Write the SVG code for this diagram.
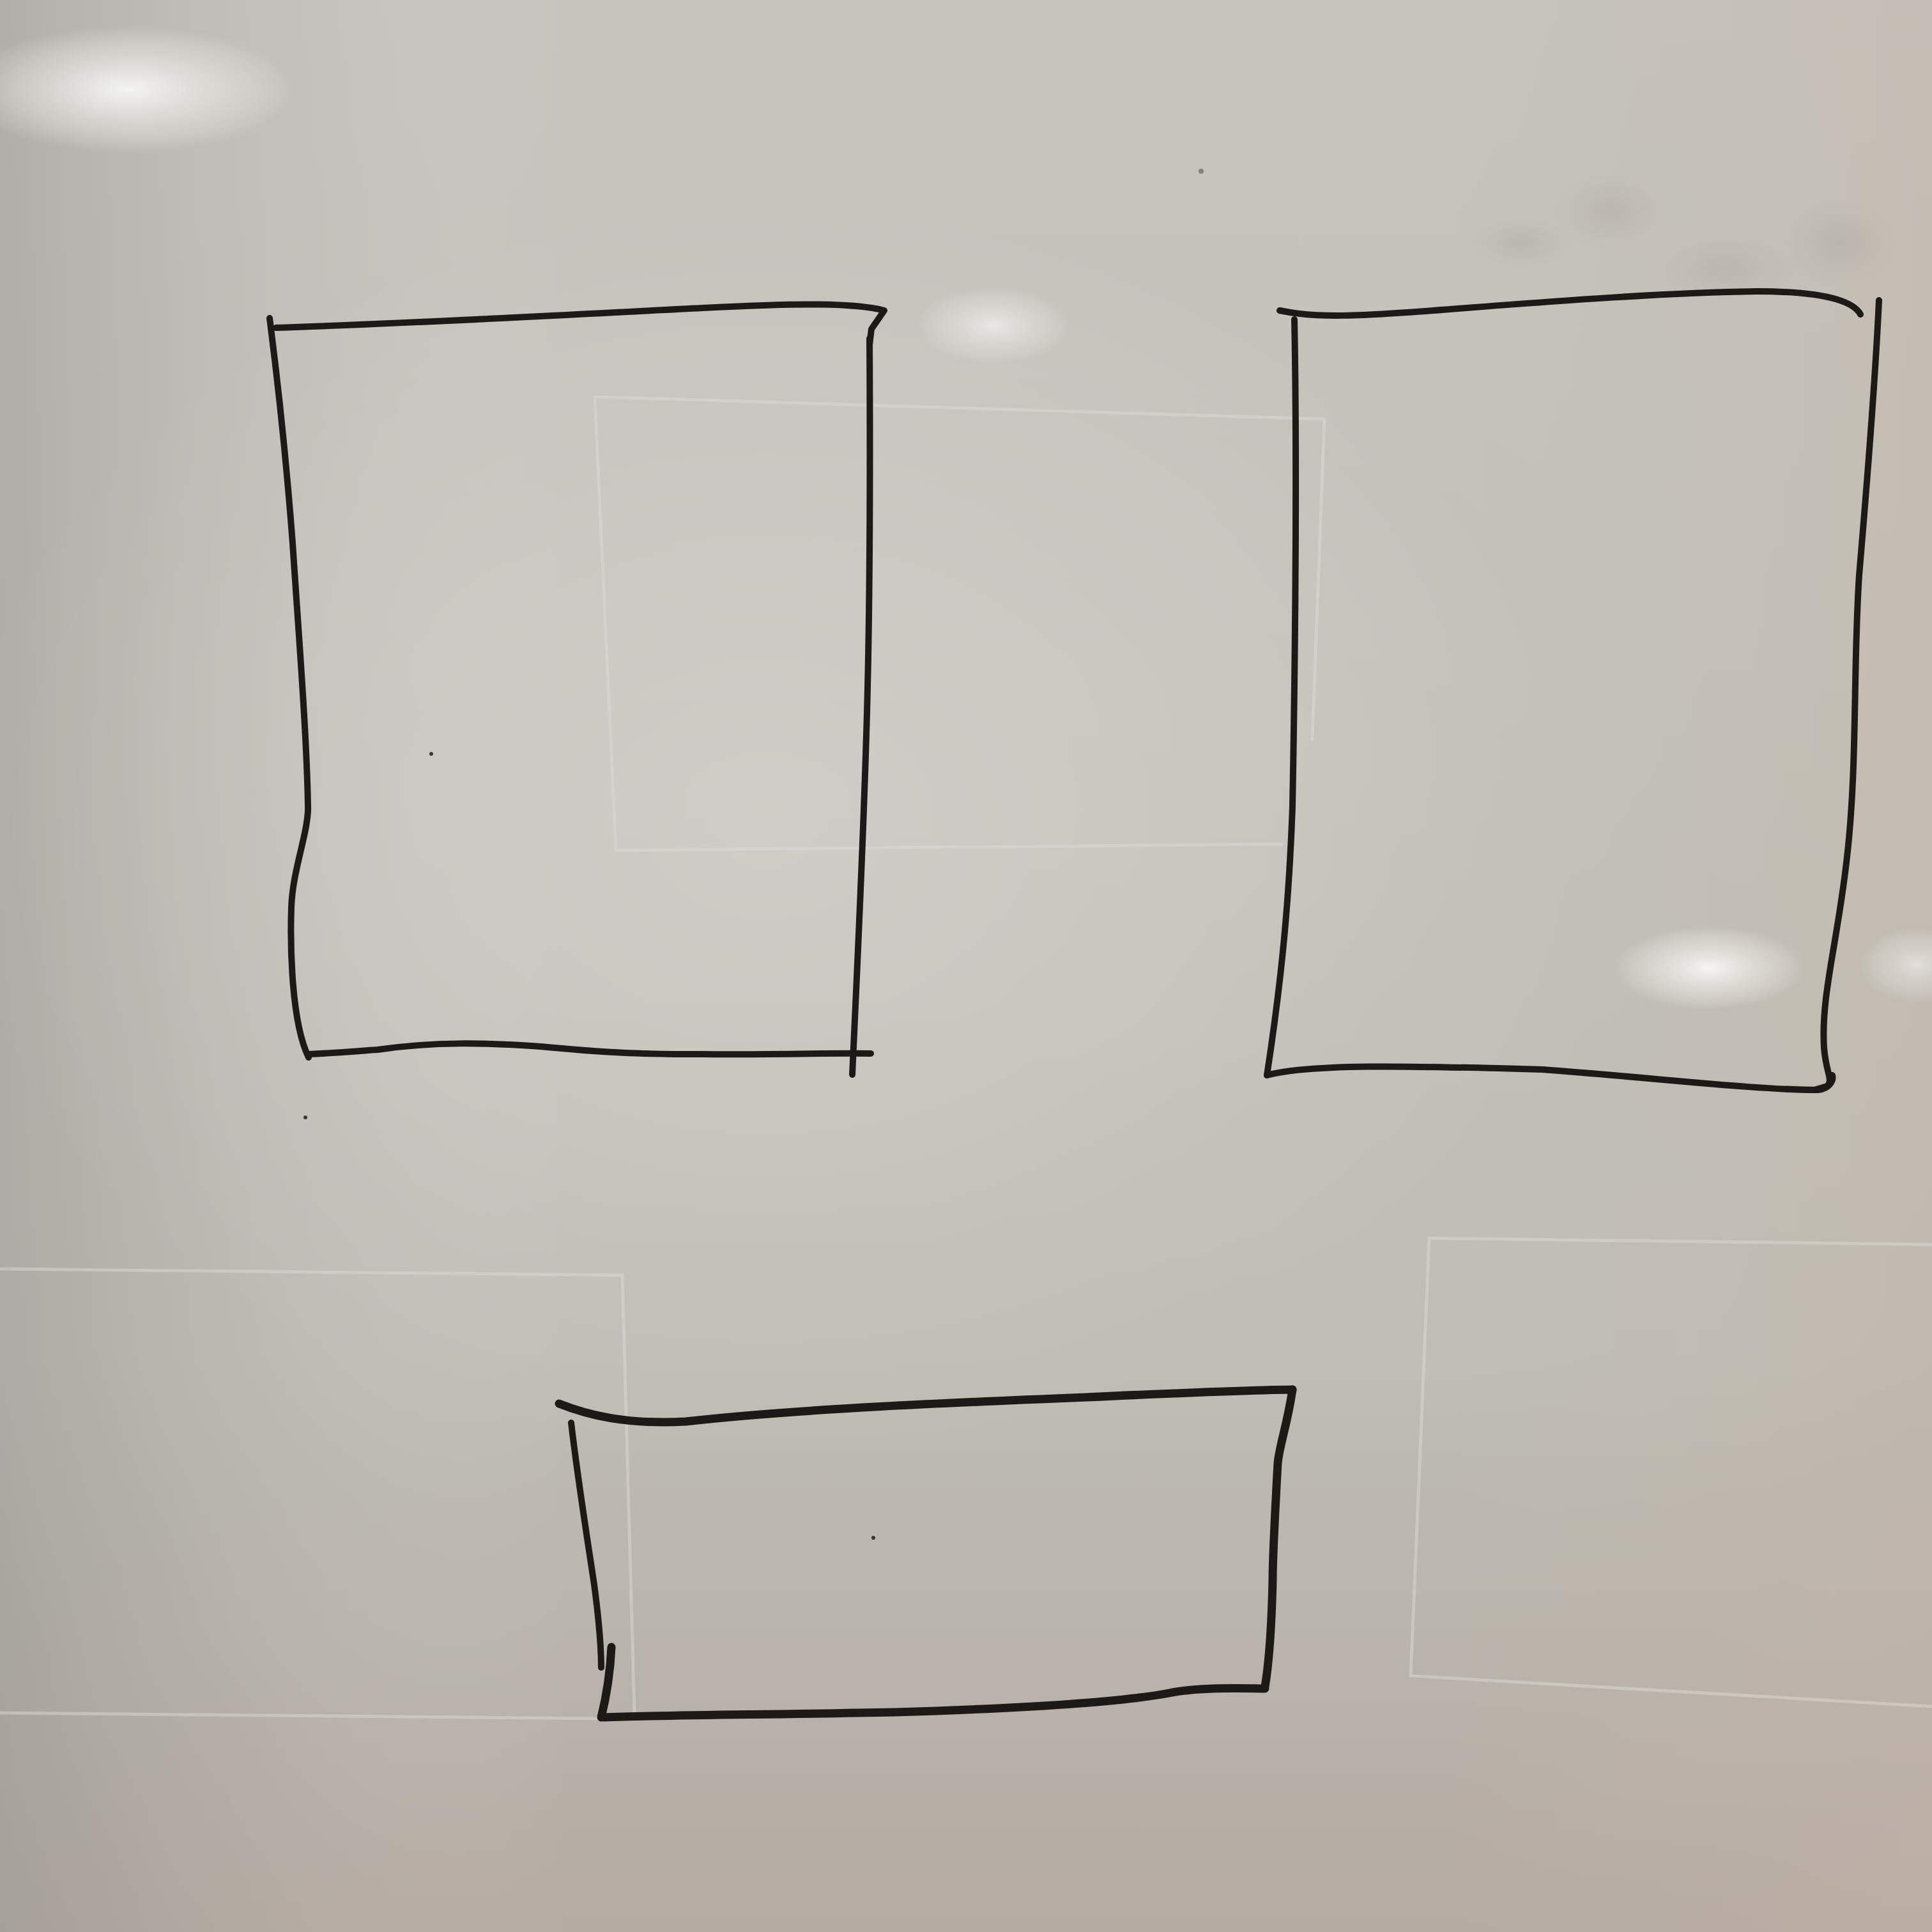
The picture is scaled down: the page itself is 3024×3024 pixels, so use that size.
<svg xmlns="http://www.w3.org/2000/svg" width="3024" height="3024" viewBox="0 0 3024 3024">
<defs>
<linearGradient id="bgV" x1="0" y1="0" x2="0" y2="1">
<stop offset="0" stop-color="#c6c4bd"/>
<stop offset="0.35" stop-color="#c3c2ba"/>
<stop offset="0.7" stop-color="#bfbdb5"/>
<stop offset="1" stop-color="#b5aba3"/>
</linearGradient>
<linearGradient id="bgL" x1="0" y1="0" x2="1" y2="0">
<stop offset="0" stop-color="#8f8f8a" stop-opacity="0.4"/>
<stop offset="0.12" stop-color="#9a9994" stop-opacity="0.12"/>
<stop offset="0.3" stop-color="#ffffff" stop-opacity="0"/>
<stop offset="0.75" stop-color="#c8b8ae" stop-opacity="0"/>
<stop offset="1" stop-color="#c4b2a8" stop-opacity="0.35"/>
</linearGradient>
<radialGradient id="glare">
<stop offset="0" stop-color="#ffffff" stop-opacity="0.85"/>
<stop offset="0.5" stop-color="#f4f3ef" stop-opacity="0.5"/>
<stop offset="1" stop-color="#ffffff" stop-opacity="0"/>
</radialGradient>
<radialGradient id="soft">
<stop offset="0" stop-color="#ffffff" stop-opacity="0.2"/>
<stop offset="1" stop-color="#ffffff" stop-opacity="0"/>
</radialGradient>
<radialGradient id="smudge">
<stop offset="0" stop-color="#a8a29c" stop-opacity="0.35"/>
<stop offset="1" stop-color="#a8a29c" stop-opacity="0"/>
</radialGradient>
<style>
.ink{fill:none;stroke:#1d1916;stroke-linecap:round;stroke-linejoin:round}
.thin{stroke-width:10}
.thick{stroke-width:13}
.ghost{fill:none;stroke:#dcdad3;stroke-width:5;stroke-opacity:0.5;stroke-linecap:round}
</style>
</defs>
<g id="board">
<rect x="0" y="0" width="3024" height="3024" fill="url(#bgV)"/>
<rect x="0" y="0" width="3024" height="3024" fill="url(#bgL)"/>
<ellipse cx="1200" cy="1300" rx="1300" ry="1000" fill="url(#soft)"/>
<ellipse cx="200" cy="140" rx="260" ry="100" fill="url(#glare)"/>
<ellipse cx="1555" cy="510" rx="120" ry="60" fill="url(#glare)" opacity="0.7"/>
<ellipse cx="2675" cy="1515" rx="150" ry="65" fill="url(#glare)"/>
<ellipse cx="3000" cy="1510" rx="90" ry="60" fill="url(#glare)" opacity="0.6"/>
<ellipse cx="2520" cy="330" rx="90" ry="60" fill="url(#smudge)"/>
<ellipse cx="2700" cy="420" rx="110" ry="55" fill="url(#smudge)"/>
<ellipse cx="2880" cy="380" rx="90" ry="70" fill="url(#smudge)"/>
<ellipse cx="2380" cy="380" rx="80" ry="40" fill="url(#smudge)"/>
<path class="ghost" d="M931,621 L2073,656 M931,621 L964,1331 L2006,1321 M2073,656 L2054,1157"/>
<path class="ghost" d="M0,1986 L974,1996 L993,2681 M0,2681 L950,2690"/>
<path class="ghost" d="M3024,1948 L2237,1938 L2208,2623 L3024,2671"/>
<circle cx="675" cy="1180" r="3" fill="#3a3632"/>
<circle cx="478" cy="1749" r="3" fill="#3a3632"/>
<circle cx="1367" cy="2407" r="3" fill="#3a3632"/>
<circle cx="1880" cy="268" r="4" fill="#6a6660" opacity="0.7"/>
</g>
<g id="box-top-left">
<path class="ink thin" d="M422,498 C430,560 445,680 458,850 C468,1000 480,1150 482,1260 C484,1300 458,1360 456,1420 C454,1480 456,1600 483,1655"/>
<path class="ink thin" d="M432,513 C650,506 900,492 1100,482 C1250,474 1340,474 1384,486 L1364,515 L1361,540"/>
<path class="ink thin" d="M1361,530 C1362,700 1362,960 1356,1150 C1350,1350 1340,1550 1334,1682"/>
<path class="ink thin" d="M483,1650 C530,1648 560,1645 591,1643 C680,1630 760,1632 846,1638 C950,1648 1000,1650 1100,1650 C1200,1651 1300,1648 1363,1649"/>
</g>
<g id="box-top-right">
<path class="ink thin" d="M2003,486 C2060,498 2120,496 2282,483 C2450,470 2613,458 2750,456 C2850,456 2900,470 2912,492"/>
<path class="ink thin" d="M2026,500 C2030,700 2028,1000 2023,1262 C2018,1400 2008,1520 1983,1683"/>
<path class="ink thin" d="M1983,1683 C2050,1665 2200,1668 2414,1674 C2600,1688 2750,1706 2845,1706 C2865,1704 2870,1690 2868,1683"/>
<path class="ink thin" d="M2941,470 C2935,600 2922,760 2910,900 C2900,1050 2908,1200 2890,1350 C2875,1480 2850,1560 2855,1640 C2858,1680 2870,1690 2860,1700 L2840,1706"/>
</g>
<g id="box-bottom">
<path class="ink thick" d="M875,2197 C920,2215 980,2230 1073,2225 C1250,2205 1500,2195 1700,2187 C1850,2180 1950,2176 2023,2175"/>
<path class="ink thick" d="M2023,2175 C2015,2230 2003,2260 2000,2290 C1995,2380 1992,2450 1992,2473 C1990,2560 1985,2610 1980,2640"/>
<path class="ink thick" d="M1980,2643 C1950,2643 1880,2640 1830,2650 C1750,2665 1600,2674 1400,2680 C1200,2684 1050,2684 945,2688"/>
<path class="ink thin" d="M894,2227 C905,2320 918,2400 930,2480 C938,2540 941,2580 941,2610"/>
<path class="ink thick" d="M957,2578 C955,2620 948,2660 941,2688"/>
</g>
<g id="connectors"/>
</svg>
